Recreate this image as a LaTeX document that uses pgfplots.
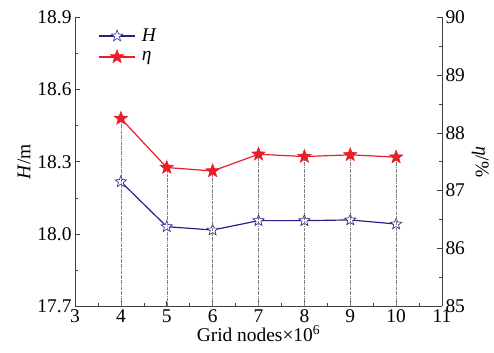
\documentclass[border=0pt]{standalone}
\usepackage{fontspec}
\setmainfont{Liberation Serif}
\usepackage{pgfplots}
\pgfplotsset{compat=1.18}
\definecolor{hblue}{RGB}{35,35,135}
\definecolor{ered}{RGB}{235,30,40}
\pgfdeclareplotmark{pstar}{%
  \pgfsetlinewidth{0.6pt}%
  \pgfpathmoveto{\pgfpointpolar{90}{\pgfplotmarksize}}%
  \pgfpathlineto{\pgfpointpolar{126}{0.42\pgfplotmarksize}}%
  \pgfpathlineto{\pgfpointpolar{162}{\pgfplotmarksize}}%
  \pgfpathlineto{\pgfpointpolar{198}{0.42\pgfplotmarksize}}%
  \pgfpathlineto{\pgfpointpolar{234}{\pgfplotmarksize}}%
  \pgfpathlineto{\pgfpointpolar{270}{0.42\pgfplotmarksize}}%
  \pgfpathlineto{\pgfpointpolar{306}{\pgfplotmarksize}}%
  \pgfpathlineto{\pgfpointpolar{342}{0.42\pgfplotmarksize}}%
  \pgfpathlineto{\pgfpointpolar{18}{\pgfplotmarksize}}%
  \pgfpathlineto{\pgfpointpolar{54}{0.42\pgfplotmarksize}}%
  \pgfpathclose\pgfusepathqfillstroke}
\pgfplotsset{
  common/.style={
    scale only axis, width=367bp, height=288.5bp,
    xmin=3, xmax=11,
    tick align=inside,
    major tick length=5bp, minor tick length=3bp,
    axis line style={line width=0.8pt, black!75},
    every tick/.style={black!75, line width=0.6pt},
    tick label style={font=\fontsize{19.5}{21}\selectfont},
    label style={font=\fontsize{19.5}{21}\selectfont},
    /pgf/number format/assume math mode=true,
  }
}
\begin{document}
\begin{tikzpicture}
\begin{axis}[common, name=ax,
  axis y line*=left, axis x line*=bottom,
  ymin=17.7, ymax=18.9,
  ytick={17.7,18.0,18.3,18.6,18.9},
  minor y tick num=1,
  xtick={3,...,11}, minor x tick num=1,
  yticklabel style={/pgf/number format/.cd, fixed, fixed zerofill, precision=1},
  ylabel={\textit{H}/m},
  xlabel={Grid nodes×10\textsuperscript{6}},
  xlabel style={yshift=4bp},
]
\addplot[hblue, line width=1.2pt, mark=pstar, mark size=6pt,
  mark options={fill=white}]
  coordinates {(4,18.217) (5,18.030) (6,18.016) (7,18.055) (8,18.055) (9,18.058) (10,18.041)};
\end{axis}
\begin{axis}[common,
  axis y line*=right, axis x line=none,
  ymin=85, ymax=90,
  ytick={85,...,90}, minor y tick num=1,
  ylabel={\textit{η}/\%},
  ylabel style={rotate=180},
  legend style={draw=none, fill=none, at={(0.055,0.975)}, anchor=north west,
    font=\fontsize{19.5}{21}\selectfont, row sep=4.5bp, nodes={inner xsep=6bp}},
  legend cell align=left,
  legend image code/.code={%
    \draw[mark repeat=2, mark phase=2] plot coordinates {(0bp,0bp) (18bp,0bp) (36bp,0bp)};},
]
\addlegendimage{hblue, line width=1.2pt, mark=pstar, mark size=6pt,
  mark options={fill=white}}
\addlegendentry{\textit{H}}
\addlegendimage{ered, line width=1.4pt, mark=pstar, mark size=7pt,
  mark options={fill=ered}}
\addlegendentry{\textit{η}}
\addplot[gray, densely dashdotted, line width=0.5pt, ycomb, forget plot]
  coordinates {(4,88.25) (5,87.40) (6,87.34) (7,87.63) (8,87.59) (9,87.62) (10,87.58)};
\addplot[ered, line width=1.2pt, mark=pstar, mark size=7pt,
  mark options={fill=ered}, forget plot]
  coordinates {(4,88.25) (5,87.40) (6,87.34) (7,87.63) (8,87.59) (9,87.62) (10,87.58)};
\end{axis}
\pgfresetboundingbox
\path[use as bounding box] ([xshift=-75bp,yshift=-47bp]ax.south west) rectangle ([xshift=52bp,yshift=17.5bp]ax.north east);
\end{tikzpicture}
\end{document}
